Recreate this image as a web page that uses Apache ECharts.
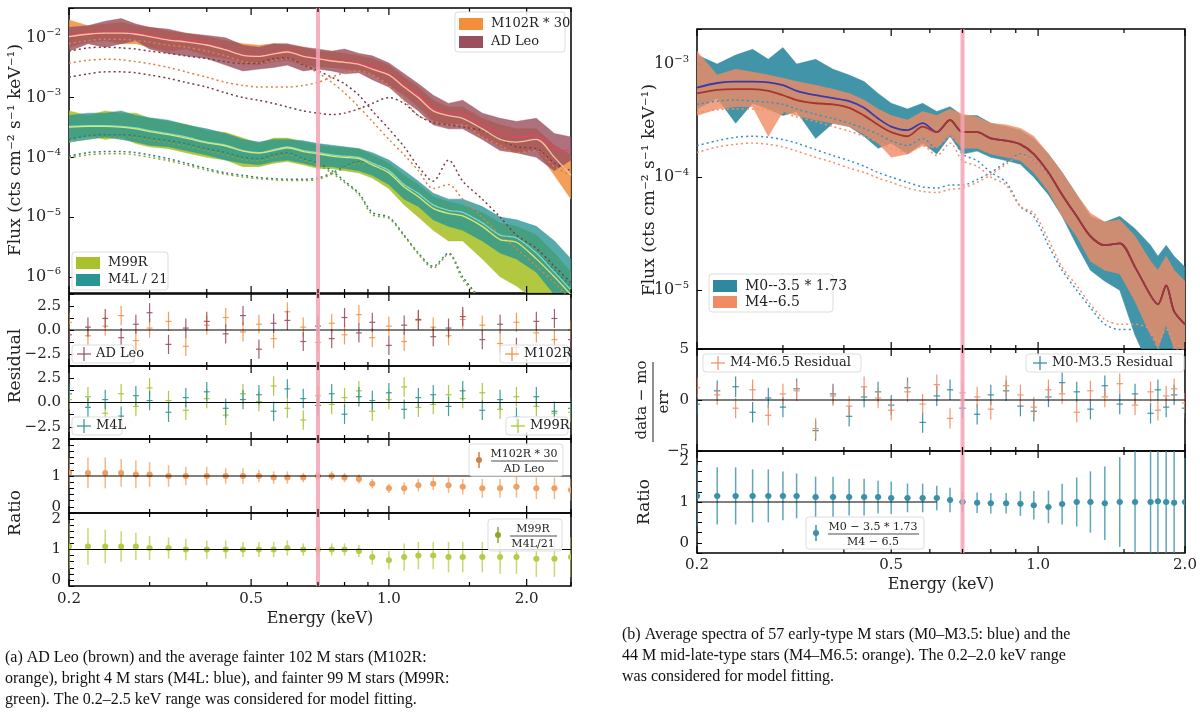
<!DOCTYPE html>
<html><head><meta charset="utf-8">
<script src="https://cdn.jsdelivr.net/npm/echarts@6/dist/echarts.min.js"></script>
<style>html,body{margin:0;background:#fff}#c{width:1200px;height:712px}</style>
</head><body><div id="c"></div>
<script>
// ---------- DATA (left panel a) ----------
const E_L=[0.20,0.22,0.24,0.26,0.28,0.30,0.33,0.36,0.40,0.44,0.48,0.52,0.56,0.60,0.65,0.70,0.75,0.80,0.86,0.92,1.00,1.08,1.16,1.25,1.35,1.45,1.60,1.75,1.90,2.10,2.30,2.50];
const adleoModel=[1.1e-2,1.2e-2,1.25e-2,1.25e-2,1.2e-2,1.1e-2,9.5e-3,9e-3,8e-3,6.5e-3,5.2e-3,5e-3,5.5e-3,6e-3,5e-3,4.6e-3,4.2e-3,4e-3,3.8e-3,3.2e-3,2.5e-3,1.6e-3,1.1e-3,6.5e-4,5.5e-4,5.2e-4,3.5e-4,2.5e-4,2.2e-4,2.3e-4,1.4e-4,1.3e-4];
const adleoHi=[1.5e-2,1.6e-2,1.9e-2,2.1e-2,1.7e-2,1.5e-2,1.4e-2,1.2e-2,1.1e-2,1.0e-2,7.5e-3,7e-3,8e-3,8e-3,7e-3,6.5e-3,6e-3,6.5e-3,5.5e-3,5e-3,3.8e-3,2.5e-3,1.7e-3,1.1e-3,8e-4,9e-4,5.5e-4,4.5e-4,4e-4,4.5e-4,2.5e-4,2.2e-4];
const adleoLo=[6e-3,8e-3,7e-3,8e-3,9e-3,6.5e-3,5.5e-3,5e-3,4.5e-3,3.5e-3,2.8e-3,3e-3,3.2e-3,3.5e-3,2.8e-3,3e-3,2.8e-3,2.5e-3,2.6e-3,2e-3,1.5e-3,9e-4,6e-4,3.5e-4,3e-4,3e-4,2e-4,1.3e-4,1.2e-4,1.0e-4,6e-5,9e-5];
const m102Model=[1.05e-2,1.15e-2,1.2e-2,1.2e-2,1.15e-2,1.05e-2,9.2e-3,8.6e-3,7.6e-3,6.3e-3,5.1e-3,4.9e-3,5.4e-3,5.8e-3,4.9e-3,4.5e-3,4.1e-3,3.9e-3,3.6e-3,3.0e-3,2.4e-3,1.5e-3,1e-3,6e-4,5e-4,4.5e-4,3e-4,2e-4,1.8e-4,2e-4,1e-4,5e-5];
const m102Hi=[2e-2,1.6e-2,1.7e-2,1.8e-2,1.6e-2,1.5e-2,1.3e-2,1.2e-2,1.05e-2,9e-3,8e-3,7.5e-3,8e-3,7.5e-3,7e-3,6e-3,6e-3,5.5e-3,5e-3,4.5e-3,3.5e-3,2.2e-3,1.5e-3,9e-4,7e-4,7e-4,4.5e-4,3.5e-4,3e-4,3e-4,1.6e-4,1.1e-4];
const m102Lo=[7e-3,8.5e-3,9e-3,8e-3,8e-3,7e-3,6e-3,6.5e-3,5e-3,4.5e-3,3.8e-3,3.5e-3,4e-3,4.2e-3,3.5e-3,3.3e-3,3.2e-3,3e-3,2.8e-3,2.4e-3,1.6e-3,1.1e-3,7e-4,4e-4,3.5e-4,3.5e-4,2.2e-4,1.5e-4,1.2e-4,1.3e-4,5e-5,2e-5];
const m4lModel=[3.3e-4,3.4e-4,3.4e-4,3.3e-4,3.1e-4,2.8e-4,2.5e-4,2.2e-4,1.8e-4,1.6e-4,1.3e-4,1.2e-4,1.35e-4,1.5e-4,1.3e-4,1.2e-4,1.1e-4,1.05e-4,1.0e-4,8e-5,6e-5,3.5e-5,2.5e-5,1.6e-5,1.3e-5,1.2e-5,8e-6,5e-6,4.5e-6,2.5e-6,1.2e-6,6e-7];
const m4lHi=[5e-4,5.5e-4,5.5e-4,6e-4,5e-4,4.6e-4,4.2e-4,3.5e-4,3e-4,2.5e-4,2e-4,1.8e-4,2e-4,2e-4,1.9e-4,1.7e-4,1.6e-4,1.5e-4,1.4e-4,1.2e-4,9e-5,6e-5,4e-5,2.5e-5,2e-5,2e-5,1.5e-5,1e-5,9e-6,7e-6,4e-6,2e-6];
const m4lLo=[1.8e-4,2e-4,2.2e-4,2e-4,1.8e-4,1.6e-4,1.5e-4,1.3e-4,1.1e-4,9e-5,8e-5,7.5e-5,8.5e-5,9e-5,8e-5,7e-5,7e-5,6.5e-5,6e-5,5e-5,3.5e-5,2e-5,1.5e-5,9e-6,7e-6,6e-6,4e-6,2.5e-6,2e-6,1.2e-6,5e-7,3e-7];
const m99Model=[3.2e-4,3.3e-4,3.3e-4,3.2e-4,3.0e-4,2.7e-4,2.4e-4,2.1e-4,1.75e-4,1.55e-4,1.27e-4,1.18e-4,1.3e-4,1.45e-4,1.25e-4,1.15e-4,1.05e-4,1.0e-4,9.5e-5,7.5e-5,5.5e-5,3.2e-5,2.2e-5,1.4e-5,1.15e-5,1.05e-5,7e-6,4.2e-6,3.8e-6,2e-6,1e-6,5e-7];
const m99Hi=[6e-4,5e-4,6e-4,5.5e-4,5.5e-4,4.5e-4,4e-4,3.6e-4,2.8e-4,2.6e-4,2.1e-4,1.7e-4,2.1e-4,2.1e-4,1.8e-4,1.6e-4,1.5e-4,1.45e-4,1.4e-4,1.1e-4,8e-5,5e-5,3.5e-5,2.2e-5,1.8e-5,1.6e-5,1.2e-5,8e-6,7e-6,5e-6,2.5e-6,1.2e-6];
const m99Lo=[2e-4,2.3e-4,2e-4,2.2e-4,1.7e-4,1.5e-4,1.4e-4,1.2e-4,1e-4,9e-5,7e-5,7e-5,8e-5,8.5e-5,7.5e-5,6.5e-5,6.5e-5,6e-5,5.5e-5,4.5e-5,3e-5,1.6e-5,1e-5,6e-6,4e-6,4e-6,2e-6,1e-6,7e-7,4e-7,3e-7,2e-7];
const compO1=[8e-3,9e-3,9.5e-3,9.5e-3,9e-3,8.5e-3,7.5e-3,7e-3,6e-3,5e-3,4e-3,3.8e-3,4.2e-3,4.5e-3,3.5e-3,2.6e-3,1.8e-3,1.2e-3,7e-4,4e-4,2e-4,1.1e-4,6e-5,3e-5,3.5e-5,2e-5,1e-5,5e-6,3e-6,1.5e-6,8e-7,4e-7];
const compO2=[3.8e-3,4.2e-3,4.4e-3,4.3e-3,4e-3,3.7e-3,3.2e-3,2.7e-3,2.2e-3,1.8e-3,1.6e-3,1.5e-3,1.5e-3,1.5e-3,1.6e-3,1.8e-3,2.2e-3,2.6e-3,2.8e-3,2.4e-3,1.6e-3,9e-4,5e-4,4e-4,3.5e-4,3.5e-4,2.2e-4,1.6e-4,1.2e-4,1.3e-4,7e-5,5e-5];
const compB1=[6e-3,6.8e-3,7e-3,6.8e-3,6.5e-3,6e-3,5.5e-3,5e-3,4.5e-3,4e-3,3.7e-3,3.8e-3,4.5e-3,4.6e-3,3.5e-3,2.8e-3,2.2e-3,1.7e-3,1.1e-3,6e-4,3e-4,1.5e-4,7e-5,4e-5,9e-5,4e-5,2e-5,1e-5,5e-6,3e-6,1.5e-6,8e-7];
const compB2=[2.2e-3,2.5e-3,2.7e-3,2.7e-3,2.6e-3,2.4e-3,2.1e-3,1.8e-3,1.5e-3,1.2e-3,1e-3,9e-4,8e-4,7e-4,6e-4,5.5e-4,5.2e-4,5.5e-4,6.5e-4,8e-4,1e-3,8e-4,5e-4,3.8e-4,3.5e-4,3.2e-4,2.8e-4,2e-4,1.5e-4,1.4e-4,8e-5,6e-5];
const compT1=[2e-4,2.3e-4,2.4e-4,2.4e-4,2.3e-4,2.1e-4,1.9e-4,1.7e-4,1.4e-4,1.2e-4,1e-4,9.5e-5,1.1e-4,1.2e-4,9.5e-5,8e-5,6e-5,4e-5,2.5e-5,1.2e-5,1e-5,5e-6,2.5e-6,1.5e-6,2.5e-6,1e-6,4e-7,2e-7,1e-7,1e-7,1e-7,1e-7];
const compT2=[1.05e-4,1.2e-4,1.25e-4,1.25e-4,1.2e-4,1.1e-4,9.5e-5,8e-5,6.5e-5,5.5e-5,5e-5,4.6e-5,4.4e-5,4.3e-5,4.3e-5,4.5e-5,5.5e-5,7e-5,8.5e-5,8e-5,6e-5,3.5e-5,2.5e-5,1.6e-5,1.3e-5,1.2e-5,8e-6,5e-6,4.5e-6,2.5e-6,1.3e-6,7e-7];
const compG1=[1.8e-4,2.1e-4,2.2e-4,2.2e-4,2.1e-4,1.95e-4,1.75e-4,1.55e-4,1.3e-4,1.1e-4,9.2e-5,8.8e-5,1.0e-4,1.1e-4,9e-5,7.5e-5,5.5e-5,3.8e-5,2.4e-5,1.1e-5,9.5e-6,4.8e-6,2.4e-6,1.4e-6,2.4e-6,9e-7,4e-7,2e-7,1e-7,1e-7,1e-7,1e-7];
const compG2=[9.8e-5,1.1e-4,1.15e-4,1.15e-4,1.1e-4,1.0e-4,8.8e-5,7.5e-5,6.1e-5,5.2e-5,4.7e-5,4.4e-5,4.2e-5,4.1e-5,4.1e-5,4.3e-5,5.2e-5,6.6e-5,8e-5,7.5e-5,5.5e-5,3.2e-5,2.2e-5,1.4e-5,1.15e-5,1.05e-5,7e-6,4.2e-6,3.8e-6,2e-6,1e-6,5e-7];
const resAdleo=[-0.5,0.3,1.2,-0.8,0.6,1.8,-1.5,0.2,0.9,-0.4,1.5,-2.0,0.7,1.0,-1.2,0.4,-0.9,1.3,-0.3,0.8,-1.6,0.5,1.1,-0.7,0.2,1.4,-1.0,0.6,-1.8,0.9,1.2,-1.0];
const resM102=[0.8,-0.6,0.4,1.5,-1.1,0.2,0.9,-1.7,0.5,1.3,-0.2,0.6,-0.9,1.9,0.3,-1.3,0.7,-0.5,1.6,-0.8,0.4,-1.2,1.0,0.3,-0.6,1.1,0.5,-1.4,0.8,-0.3,-1.0,0.0];
const resM4l=[0.9,-0.5,0.3,-1.4,0.7,0.2,-1.0,0.5,1.1,-0.6,0.3,0.8,-0.9,1.4,0.4,-0.3,0.9,-1.2,0.6,0.2,1.0,-0.7,0.5,0.8,-0.4,1.2,-0.8,0.3,-1.5,0.6,-0.9,-0.6];
const resM99=[0.3,0.6,-1.1,0.9,-0.4,1.5,0.2,-0.8,0.4,-1.3,0.9,0.1,1.7,-0.6,-1.8,0.7,-0.2,0.5,1.2,-0.9,0.3,1.6,-0.5,-0.2,0.8,0.4,1.0,-0.7,0.6,-0.4,-1.1,-1.0];
const ratioA=[1.1,1.1,1.1,1.1,1.05,1.05,1.0,1.0,1.0,1.0,1.0,1.0,0.95,0.95,0.95,1.0,1.0,0.95,0.9,0.75,0.6,0.6,0.7,0.75,0.7,0.65,0.6,0.6,0.65,0.6,0.6,0.55];
const ratioAErr=[0.5,0.5,0.5,0.45,0.45,0.4,0.35,0.3,0.3,0.25,0.25,0.2,0.2,0.2,0.15,0.15,0.15,0.15,0.15,0.15,0.15,0.2,0.2,0.2,0.25,0.25,0.3,0.3,0.35,0.35,0.35,0.35];
const ratioB=[1.1,1.1,1.1,1.1,1.1,1.05,1.05,1.0,1.0,1.0,1.0,1.0,1.0,1.05,1.0,1.0,1.0,1.0,0.95,0.75,0.65,0.75,0.8,0.8,0.75,0.75,0.75,0.75,0.75,0.7,0.7,0.75];
const ratioBErr=[0.75,0.6,0.55,0.5,0.45,0.4,0.35,0.35,0.3,0.3,0.25,0.25,0.25,0.25,0.2,0.2,0.2,0.2,0.2,0.25,0.3,0.45,0.45,0.45,0.5,0.5,0.5,0.55,0.55,0.6,0.6,0.65];

// ---------- DATA (right panel b) ----------
const E_R=[0.20,0.22,0.24,0.26,0.28,0.30,0.32,0.35,0.38,0.41,0.44,0.47,0.50,0.54,0.58,0.62,0.66,0.70,0.75,0.80,0.86,0.92,0.98,1.05,1.12,1.20,1.28,1.37,1.47,1.58,1.70,1.76,1.83,1.90,2.00];
const lateModel=[5.5e-4,5.9e-4,6e-4,6e-4,5.8e-4,5.3e-4,4.8e-4,4.5e-4,4.4e-4,4.1e-4,3.5e-4,2.9e-4,2.5e-4,2.3e-4,2.8e-4,2.5e-4,3.2e-4,2.5e-4,2.5e-4,2.2e-4,2.1e-4,1.95e-4,1.6e-4,1.1e-4,7e-5,4.5e-5,3e-5,2.5e-5,2.6e-5,1.6e-5,9e-6,7.5e-6,1.1e-5,6.5e-6,5e-6];
const earlyModel=[6.2e-4,6.8e-4,7e-4,7e-4,6.9e-4,6.5e-4,5.8e-4,5.3e-4,5e-4,4.7e-4,4.1e-4,3.3e-4,2.8e-4,2.6e-4,3e-4,2.5e-4,3.2e-4,2.5e-4,2.5e-4,2.2e-4,2.1e-4,1.95e-4,1.6e-4,1.1e-4,7e-5,4.5e-5,3e-5,2.5e-5,2.6e-5,1.6e-5,9e-6,7.5e-6,1.1e-5,6.5e-6,5e-6];
const earlyHi=[1.2e-3,1.0e-3,1.2e-3,1.35e-3,1.1e-3,1.4e-3,1.0e-3,1.1e-3,9e-4,8e-4,7e-4,5.5e-4,4.5e-4,4e-4,4.5e-4,3.8e-4,4.2e-4,3.5e-4,3.5e-4,3e-4,2.8e-4,2.6e-4,2.2e-4,1.6e-4,1.1e-4,7e-5,4.5e-5,4e-5,4.5e-5,3.5e-5,2.5e-5,2e-5,2.5e-5,2e-5,1.6e-5];
const earlyLo=[4e-4,5e-4,3e-4,4.5e-4,4e-4,3.5e-4,3.8e-4,2.2e-4,3e-4,2.8e-4,2.3e-4,1.8e-4,2e-4,1.6e-4,2e-4,1.6e-4,2.3e-4,1.6e-4,1.7e-4,1.5e-4,1.4e-4,1.3e-4,1.0e-4,7e-5,4.5e-5,2.5e-5,1.5e-5,1.2e-5,1e-5,4e-6,2e-6,2e-6,3e-6,2e-6,2e-6];
const lateHi=[1.3e-3,8e-4,9e-4,8.5e-4,8e-4,7.5e-4,7e-4,6.5e-4,6e-4,5.5e-4,4.8e-4,4e-4,3.5e-4,3.2e-4,3.8e-4,3.5e-4,4e-4,3.6e-4,3.4e-4,3e-4,2.9e-4,2.7e-4,2.3e-4,1.6e-4,1.1e-4,7e-5,4.8e-5,4e-5,4.2e-5,3e-5,1.8e-5,1.5e-5,2e-5,1.5e-5,1.2e-5];
const lateLo=[3.5e-4,4e-4,4.2e-4,4.2e-4,2.3e-4,3.8e-4,3.5e-4,3.2e-4,3e-4,2.8e-4,2.4e-4,2e-4,1.5e-4,1.6e-4,1.9e-4,1.8e-4,2.3e-4,1.8e-4,1.8e-4,1.6e-4,1.5e-4,1.4e-4,1.1e-4,7.5e-5,4.5e-5,3e-5,1.8e-5,1.5e-5,1.4e-5,8e-6,4e-6,3e-6,5e-6,3e-6,3e-6];
const earlyCool=[4.4e-4,4.7e-4,4.8e-4,4.7e-4,4.6e-4,4.4e-4,4e-4,3.6e-4,3.3e-4,3e-4,2.7e-4,2.4e-4,2.1e-4,1.9e-4,2.2e-4,1.8e-4,2.3e-4,1.6e-4,1.4e-4,1.1e-4,9e-5,5.5e-5,4.5e-5,2.5e-5,1.5e-5,1e-5,7e-6,5e-6,4.5e-6,4.5e-6,4e-6,3e-6,4e-6,3e-6,3e-6];
const lateCool=[3.7e-4,3.95e-4,4e-4,4e-4,3.9e-4,3.7e-4,3.4e-4,3.1e-4,2.8e-4,2.55e-4,2.3e-4,2.05e-4,1.8e-4,1.65e-4,1.9e-4,1.55e-4,2e-4,1.4e-4,1.25e-4,1e-4,8.5e-5,5.5e-5,4.8e-5,2.8e-5,1.6e-5,1.1e-5,7.5e-6,5.5e-6,5e-6,5e-6,4.5e-6,3.5e-6,4.5e-6,3.5e-6,3e-6];
const earlyHot=[1.9e-4,2.1e-4,2.25e-4,2.3e-4,2.25e-4,2.15e-4,2e-4,1.75e-4,1.55e-4,1.4e-4,1.25e-4,1.1e-4,1e-4,9e-5,8.2e-5,8e-5,8.5e-5,8.5e-5,9.5e-5,1.1e-4,1.35e-4,1.6e-4,1.4e-4,1.05e-4,7e-5,4.5e-5,3e-5,2.5e-5,2.6e-5,1.6e-5,9e-6,7.5e-6,1.1e-5,6.5e-6,5e-6];
const lateHot=[1.65e-4,1.85e-4,1.95e-4,2e-4,1.95e-4,1.85e-4,1.7e-4,1.5e-4,1.35e-4,1.2e-4,1.1e-4,9.8e-5,9e-5,8e-5,7.5e-5,7.3e-5,7.8e-5,8e-5,9e-5,1.05e-4,1.3e-4,1.55e-4,1.4e-4,1.05e-4,7e-5,4.5e-5,3e-5,2.5e-5,2.6e-5,1.6e-5,9e-6,7.5e-6,1.1e-5,6.5e-6,5e-6];
const resLate=[1.2,0.5,-0.8,1.0,-1.5,0.6,0.9,-2.8,0.4,-0.6,1.3,0.2,-1.0,0.8,-0.4,1.5,-1.8,0.7,0.3,-0.9,1.4,0.5,-0.7,1.0,0.6,-1.2,0.9,0.3,1.6,-0.5,0.8,-1.0,0.4,1.1,-0.3];
const resEarly=[-0.4,0.9,1.3,-1.2,0.2,-0.7,1.1,-3.0,0.6,-1.6,0.3,0.8,-0.5,1.2,-2.2,0.4,1.0,-0.8,-1.4,0.5,0.9,-0.6,-1.1,0.3,1.7,0.8,-0.9,1.4,-0.4,0.6,-1.3,1.0,-0.7,0.5,-0.8];
const ratioR=[1.15,1.15,1.15,1.15,1.15,1.15,1.15,1.12,1.12,1.12,1.12,1.12,1.1,1.1,1.1,1.1,1.05,1.0,0.98,0.97,0.97,0.96,0.92,0.88,0.95,1.0,1.0,0.97,1.0,1.0,1.0,1.02,1.0,0.98,1.0];
const ratioRErr=[0.75,0.7,0.7,0.65,0.65,0.6,0.55,0.5,0.5,0.45,0.45,0.4,0.4,0.35,0.35,0.3,0.3,0.25,0.25,0.25,0.25,0.3,0.35,0.4,0.5,0.6,0.75,0.9,1.1,1.3,1.5,1.6,1.6,1.7,1.8];

const xTicksL=[0.2,0.5,1.0,2.0], xTicksR=[0.2,0.5,1.0,2.0];
const C={m102:'#f28e3c',adleo:'#9a4f5e',m99:'#a9c22b',m4l:'#2a9693',early:'#2e88a0',late:'#f08c64',vline:'#f3a3b5'};
const F='"DejaVu Serif", "Liberation Serif", serif';

// ---------- CHART ----------
const chart=echarts.init(document.getElementById('c'));
const grids=[
 {left:69,width:502,top:8,height:285},
 {left:69,width:502,top:294,height:72},
 {left:69,width:502,top:366,height:73},
 {left:69,width:502,top:439,height:74},
 {left:69,width:502,top:513,height:73},
 {left:697,width:488,top:29,height:320},
 {left:697,width:488,top:349,height:102},
 {left:697,width:488,top:451,height:102}];
const gridOpts=grids.map(g=>Object.assign({show:true,borderColor:'#000',borderWidth:1.5,backgroundColor:'transparent'},g));
const xAxes=grids.map((g,i)=>({type:'log',gridIndex:i,min:0.2,max:i<5?2.5:2.0,axisLabel:{show:false},axisTick:{show:false},splitLine:{show:false},axisLine:{show:false}}));
function supFmt(v){const e=Math.round(Math.log10(v));if(Math.abs(Math.log10(v)-e)>1e-3)return '';return '{b|10}{s|−'+(-e)+'}';}
const rich={b:{fontFamily:F,fontSize:16,color:'#222'},s:{fontFamily:F,fontSize:10,color:'#222',verticalAlign:'top',padding:[0,0,10,0]}};
function numFmt(keep,dec){return v=>{for(const k of keep){if(Math.abs(v-k)<1e-6)return (k<0?'−':'')+Math.abs(k).toFixed(dec);}return '';};}
const baseY={splitLine:{show:false},axisLine:{show:false},axisTick:{show:true,inside:true,length:5,lineStyle:{color:'#000'}},axisLabel:{fontFamily:F,fontSize:15,color:'#222',showMinLabel:true,showMaxLabel:true}};
const yAxes=[
 Object.assign({},baseY,{type:'log',gridIndex:0,min:Math.pow(10,-6.27),max:Math.pow(10,-1.5),axisLabel:{formatter:supFmt,rich:rich}}),
 Object.assign({},baseY,{type:'value',gridIndex:1,min:-3.75,max:3.75,interval:1.25,axisLabel:Object.assign({},baseY.axisLabel,{formatter:numFmt([-2.5,0,2.5],1)})}),
 Object.assign({},baseY,{type:'value',gridIndex:2,min:-3.75,max:3.75,interval:1.25,axisLabel:Object.assign({},baseY.axisLabel,{formatter:numFmt([-2.5,0,2.5],1)})}),
 Object.assign({},baseY,{type:'value',gridIndex:3,min:-0.2,max:2.2,interval:0.2,axisLabel:Object.assign({},baseY.axisLabel,{formatter:numFmt([0,1,2],0)})}),
 Object.assign({},baseY,{type:'value',gridIndex:4,min:-0.2,max:2.2,interval:0.2,axisLabel:Object.assign({},baseY.axisLabel,{formatter:numFmt([0,1,2],0)})}),
 Object.assign({},baseY,{type:'log',gridIndex:5,min:Math.pow(10,-5.52),max:Math.pow(10,-2.69),axisLabel:{formatter:supFmt,rich:rich}}),
 Object.assign({},baseY,{type:'value',gridIndex:6,min:-5,max:5,interval:5,axisLabel:Object.assign({},baseY.axisLabel,{formatter:numFmt([-5,0,5],0)})}),
 Object.assign({},baseY,{type:'value',gridIndex:7,min:-0.25,max:2.25,interval:0.25,axisLabel:Object.assign({},baseY.axisLabel,{formatter:numFmt([0,1,2],0)})})];

const series=[];
function band(gi,E,lo,hi,color,op){
 series.push({type:'custom',xAxisIndex:gi,yAxisIndex:gi,clip:true,silent:true,z:2,data:[[E[0],lo[0]]],
  renderItem:(p,api)=>{const pts=[];for(let i=0;i<E.length;i++)pts.push(api.coord([E[i],hi[i]]));for(let i=E.length-1;i>=0;i--)pts.push(api.coord([E[i],lo[i]]));
   return {type:'polygon',shape:{points:pts},style:{fill:color,opacity:op,stroke:color,lineWidth:0.5}};}});
}
function line(gi,E,v,color,w,dotted,z){
 series.push({type:'line',xAxisIndex:gi,yAxisIndex:gi,showSymbol:false,smooth:0.3,silent:true,z:z||3,clip:true,
  data:E.map((e,i)=>[e,v[i]]),lineStyle:{color:color,width:w,type:dotted?[2,3]:'solid'}});
}
function errbars(gi,E,v,err,color,dot,lw,op){
 series.push({type:'custom',xAxisIndex:gi,yAxisIndex:gi,clip:true,silent:true,z:4,data:E.map((e,i)=>[e,v[i],err[i]!==undefined?err[i]:err]),
  renderItem:(p,api)=>{const e=api.value(0),y=api.value(1),r=api.value(2);
   const a=api.coord([e,y-r]),b=api.coord([e,y+r]),c=api.coord([e,y]),l=api.coord([e*0.985,y]),rr=api.coord([e*1.015,y]);
   const ch=[{type:'line',shape:{x1:a[0],y1:a[1],x2:b[0],y2:b[1]},style:{stroke:color,lineWidth:lw,opacity:op}},
     {type:'line',shape:{x1:l[0],y1:l[1],x2:rr[0],y2:rr[1]},style:{stroke:color,lineWidth:lw,opacity:op}}];
   if(dot)ch.push({type:'circle',shape:{cx:c[0],cy:c[1],r:dot},style:{fill:color}});
   return {type:'group',children:ch};}});
}
function hline(gi,y,x0,x1){series.push({type:'line',xAxisIndex:gi,yAxisIndex:gi,showSymbol:false,silent:true,z:5,data:[[x0,y],[x1,y]],lineStyle:{color:'#000',width:1.2}});}

// left flux
band(0,E_L,m102Lo,m102Hi,C.m102,0.85);
band(0,E_L,adleoLo,adleoHi,C.adleo,0.8);
band(0,E_L,m99Lo,m99Hi,C.m99,0.9);
band(0,E_L,m4lLo,m4lHi,C.m4l,0.8);
line(0,E_L,compO1,'#d9824a',1.5,true);line(0,E_L,compO2,'#d9824a',1.5,true);
line(0,E_L,compB1,'#7a3d45',1.5,true);line(0,E_L,compB2,'#7a3d45',1.5,true);
line(0,E_L,compT1,'#2c7d7b',1.5,true);line(0,E_L,compT2,'#2c7d7b',1.5,true);
line(0,E_L,compG1,'#8fa52a',1.5,true);line(0,E_L,compG2,'#8fa52a',1.5,true);
line(0,E_L,adleoModel,'#e0456a',1.5,false,6);line(0,E_L,m102Model,'#f4c49a',1.3,false,6);
line(0,E_L,m4lModel,'#7fd8c8',1.3,false,6);line(0,E_L,m99Model,'#d9e87a',1.3,false,6);
// residuals
errbars(1,E_L,resM102,1.0,C.m102,0,1.2,0.85);errbars(1,E_L,resAdleo,1.0,C.adleo,0,1.2,0.9);hline(1,0,0.2,2.5);
errbars(2,E_L,resM99,1.0,C.m99,0,1.2,0.9);errbars(2,E_L,resM4l,1.0,C.m4l,0,1.2,0.9);hline(2,0,0.2,2.5);
errbars(3,E_L,ratioA,ratioAErr,'#f0a060',3,1.5,0.75);hline(3,1,0.2,2.5);
errbars(4,E_L,ratioB,ratioBErr,'#b5cc45',3,1.5,0.75);hline(4,1,0.2,2.5);
// right
band(5,E_R,earlyLo,earlyHi,C.early,0.9);
band(5,E_R,lateLo,lateHi,C.late,0.8);
line(5,E_R,earlyCool,'#3a8fc0',1.5,true);line(5,E_R,earlyHot,'#3a8fc0',1.5,true);
line(5,E_R,lateCool,'#f0906a',1.5,true);line(5,E_R,lateHot,'#f0906a',1.5,true);
line(5,E_R,earlyModel,'#3a3aa8',1.8,false,6);line(5,E_R,lateModel,'#a8342c',1.8,false,6);
errbars(6,E_R,resEarly,1.0,C.early,0,1.2,0.9);errbars(6,E_R,resLate,1.0,C.late,0,1.2,0.9);hline(6,0,0.2,2.0);
errbars(7,E_R,ratioR,ratioRErr,'#3a90a8',3,1.5,0.8);hline(7,1,0.2,0.62);

chart.setOption({animation:false,grid:gridOpts,xAxis:xAxes,yAxis:yAxes,series:series});

// ---------- GRAPHICS: x ticks/labels, vline, legends, titles ----------
const G=[];
function px(gi,x,y){return chart.convertToPixel({xAxisIndex:gi,yAxisIndex:gi},[x,y]);}
const minorL=[0.3,0.4,0.6,0.7,0.8,0.9,1.5,2.5];
grids.forEach((g,gi)=>{
 const maj=[0.2,0.5,1.0,2.0];
 maj.concat(minorL).forEach(v=>{const mx=gi<5?2.5:2.0;if(v>mx+1e-9)return;const x=px(gi,v,gi===0||gi===5?1e-4:0)[0];const L=maj.indexOf(v)>=0?7:4;
  G.push({type:'line',shape:{x1:x,y1:g.top+g.height,x2:x,y2:g.top+g.height-L},style:{stroke:'#000',lineWidth:1.2},z:20});
  G.push({type:'line',shape:{x1:x,y1:g.top,x2:x,y2:g.top+L},style:{stroke:'#000',lineWidth:1.2},z:20});});
});
xTicksL.forEach(v=>{const x=px(4,v,0)[0];G.push({type:'text',x:x,y:592,style:{text:v.toFixed(1),font:'15px '+F,fill:'#222',textAlign:'center'},z:20});});
xTicksR.forEach(v=>{const x=px(7,v,0)[0];G.push({type:'text',x:x,y:558,style:{text:v.toFixed(1),font:'15px '+F,fill:'#222',textAlign:'center'},z:20});});
G.push({type:'text',x:320,y:611,style:{text:'Energy (keV)',font:'16px '+F,fill:'#222',textAlign:'center'}});
G.push({type:'text',x:941,y:577,style:{text:'Energy (keV)',font:'16px '+F,fill:'#222',textAlign:'center'}});
// vertical 0.7 keV lines
const xl=px(0,0.7,1e-4)[0],xr=px(5,0.7,1e-4)[0];
G.push({type:'rect',shape:{x:xl-2,y:8,width:4,height:578},style:{fill:C.vline,opacity:0.85},z:15});
G.push({type:'rect',shape:{x:xr-2,y:29,width:4,height:524},style:{fill:C.vline,opacity:0.85},z:15});
// y names
function yname(t,x,y,size){G.push({type:'text',x:x,y:y,rotation:Math.PI/2,style:{text:t,font:size+'px '+F,fill:'#222',textAlign:'center',textVerticalAlign:'middle'}});}
yname('Flux (cts cm⁻² s⁻¹ keV⁻¹)',16,150,17);yname('Residual',16,366,17);yname('Ratio',16,513,17);
yname('Flux (cts cm⁻² s⁻¹ keV⁻¹)',650,190,17);yname('Ratio',645,502,17);
G.push({type:'text',x:642,y:400,rotation:Math.PI/2,style:{text:'data − mo',font:'15px '+F,fill:'#222',textAlign:'center',textVerticalAlign:'middle'}});
G.push({type:'line',shape:{x1:653,y1:362,x2:653,y2:442},style:{stroke:'#222',lineWidth:1}});
G.push({type:'text',x:664,y:402,rotation:Math.PI/2,style:{text:'err',font:'15px '+F,fill:'#222',textAlign:'center',textVerticalAlign:'middle'}});
// legends
function legBox(x,y,w,h){G.push({type:'rect',shape:{x:x,y:y,width:w,height:h,r:3},style:{fill:'rgba(255,255,255,0.85)',stroke:'#ddd'},z:30});}
function patch(x,y,c,t,fs){G.push({type:'rect',shape:{x:x,y:y,width:24,height:12},style:{fill:c},z:31});G.push({type:'text',x:x+32,y:y+6,style:{text:t,font:(fs||13)+'px '+F,fill:'#222',textVerticalAlign:'middle'},z:31});}
function cross(x,y,c,t,fs){G.push({type:'line',shape:{x1:x-7,y1:y,x2:x+7,y2:y},style:{stroke:c,lineWidth:1.2},z:31});G.push({type:'line',shape:{x1:x,y1:y-7,x2:x,y2:y+7},style:{stroke:c,lineWidth:1.2},z:31});
 G.push({type:'text',x:x+12,y:y,style:{text:t,font:(fs||13)+'px '+F,fill:'#222',textVerticalAlign:'middle'},z:31});}
legBox(455,12,110,40);patch(459,18,C.m102,'M102R * 30');patch(459,36,C.adleo,'AD Leo');
legBox(72,252,96,38);patch(76,257,C.m99,'M99R');patch(76,274,C.m4l,'M4L / 21');
legBox(72,345,62,18);cross(84,354,C.adleo,'AD Leo');
legBox(500,345,68,18);cross(512,354,C.m102,'M102R');
legBox(72,417,50,18);cross(84,426,C.m4l,'M4L');
legBox(506,417,62,18);cross(518,426,C.m99,'M99R');
function fracLeg(x,y,w,c,num,den){legBox(x,y,w,32);G.push({type:'line',shape:{x1:x+10,y1:y+8,x2:x+10,y2:y+24},style:{stroke:c,lineWidth:1.5},z:31});G.push({type:'circle',shape:{cx:x+10,cy:y+16,r:3},style:{fill:c},z:31});
 G.push({type:'text',x:x+w/2+8,y:y+10,style:{text:num,font:'11px '+F,fill:'#222',textAlign:'center',textVerticalAlign:'middle'},z:31});
 G.push({type:'line',shape:{x1:x+22,y1:y+17,x2:x+w-5,y2:y+17},style:{stroke:'#222',lineWidth:0.8},z:31});
 G.push({type:'text',x:x+w/2+8,y:y+25,style:{text:den,font:'11px '+F,fill:'#222',textAlign:'center',textVerticalAlign:'middle'},z:31});}
fracLeg(469,444,94,'#d08040','M102R * 30','AD Leo');
fracLeg(488,519,74,'#8fa52a','M99R','M4L/21');
fracLeg(806,517,118,'#3a90a8','M0 − 3.5 * 1.73','M4 − 6.5');
legBox(709,274,124,38);patch(713,280,C.early,'M0--3.5 * 1.73',14);patch(713,296,C.late,'M4--6.5',14);
legBox(703,354,158,18);cross(718,363,C.late,'M4-M6.5 Residual',13);
legBox(1026,354,158,18);cross(1040,363,C.early,'M0-M3.5 Residual',13);
// captions
const capL=['(a) AD Leo (brown) and the average fainter 102 M stars (M102R:','orange), bright 4 M stars (M4L: blue), and fainter 99 M stars (M99R:','green). The 0.2–2.5 keV range was considered for model fitting.'];
const capR=['(b) Average spectra of 57 early-type M stars (M0–M3.5: blue) and the','44 M mid-late-type stars (M4–M6.5: orange). The 0.2–2.0 keV range','was considered for model fitting.'];
capL.forEach((t,i)=>G.push({type:'text',x:5,y:650+i*21,style:{text:t,font:'16px "Liberation Serif", serif',fill:'#111'}}));
capR.forEach((t,i)=>G.push({type:'text',x:622,y:627+i*21,style:{text:t,font:'16px "Liberation Serif", serif',fill:'#111'}}));
chart.setOption({graphic:G});
</script></body></html>
